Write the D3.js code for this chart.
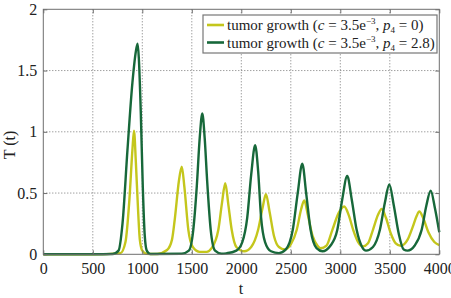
<!DOCTYPE html>
<html>
<head>
<meta charset="utf-8">
<script src="https://cdn.jsdelivr.net/npm/d3@7"></script>
<style>
  body { margin: 0; background: #fff; }
</style>
</head>
<body>
<svg id="chart" width="451" height="298" font-family="Liberation Serif"></svg>
<script>
// tumor growth, c = 3.5e-3, p4 = 0
var yellowT = [0, 500, 780, 830, 870, 900, 916, 935, 955, 975, 1000, 1040, 1150, 1250, 1300, 1330, 1370, 1399, 1425, 1465, 1510, 1580, 1650,
    1700, 1768, 1805, 1838, 1870, 1903, 1950, 2030, 2100, 2170, 2215, 2249, 2285, 2330, 2380, 2440,
    2500, 2560, 2605, 2636, 2670, 2720, 2770, 2800, 2860, 2920, 2985, 3040, 3085, 3130, 3180, 3230,
    3280, 3330, 3380, 3418, 3460, 3510, 3560, 3610, 3680, 3730, 3770, 3798, 3840, 3890, 3950, 4000];
var yellowV = [0, 0, 0.01, 0.1, 0.45, 0.85, 1.01, 0.75, 0.4, 0.12, 0.03, 0.005, 0.003, 0.035, 0.12, 0.3, 0.6, 0.715, 0.55, 0.2, 0.06, 0.02, 0.02,
    0.05, 0.2, 0.42, 0.58, 0.4, 0.2, 0.06, 0.025, 0.06, 0.2, 0.38, 0.49, 0.35, 0.15, 0.06, 0.04,
    0.08, 0.2, 0.37, 0.44, 0.33, 0.15, 0.07, 0.05, 0.07, 0.2, 0.34, 0.39, 0.32, 0.2, 0.1, 0.065,
    0.09, 0.2, 0.32, 0.37, 0.3, 0.17, 0.09, 0.07, 0.12, 0.22, 0.31, 0.35, 0.29, 0.18, 0.1, 0.075];

// tumor growth, c = 3.5e-3, p4 = 2.8
var greenT = [0, 500, 700, 760, 800, 850, 900, 940, 953, 965, 985, 1005, 1025, 1045, 1080,
    1400, 1470, 1515, 1550, 1580, 1606, 1630, 1655, 1691, 1735, 1800,
    1850, 1950, 2010, 2060, 2100, 2140, 2170, 2200, 2240, 2300, 2380,
    2450, 2520, 2570, 2616, 2655, 2700, 2760, 2820,
    2900, 2970, 3020, 3070, 3115, 3165, 3220, 3260,
    3330, 3400, 3450, 3495, 3540, 3590, 3640, 3680,
    3750, 3822, 3870, 3913, 3955, 4000];
var greenV = [0, 0, 0.002, 0.03, 0.25, 0.85, 1.4, 1.68, 1.72, 1.6, 1.15, 0.55, 0.15, 0.03, 0.003,
    0.005, 0.03, 0.2, 0.55, 0.95, 1.15, 0.95, 0.6, 0.2, 0.03, 0.005,
    0.008, 0.03, 0.1, 0.3, 0.65, 0.89, 0.68, 0.3, 0.1, 0.025, 0.01,
    0.04, 0.2, 0.5, 0.74, 0.5, 0.2, 0.05, 0.025,
    0.07, 0.2, 0.45, 0.64, 0.45, 0.2, 0.06, 0.03,
    0.06, 0.2, 0.42, 0.57, 0.4, 0.17, 0.04, 0.03,
    0.07, 0.2, 0.4, 0.52, 0.38, 0.18];

var xTicks = [0, 500, 1000, 1500, 2000, 2500, 3000, 3500, 4000];
var yTicks = [0, 0.5, 1, 1.5, 2];

var ctx = {
    left: 43.3, right: 439.3, top: 9.3, bottom: 254.3,
    YELLOW: "#c4c61c",
    GREEN: "#17683a",
    FRAME: "#6f6f6f",
    GRID: "#555",
    SERIF: "Liberation Serif"
};

var svgEl = d3.select("#chart");

var x = d3.scaleLinear().domain([0, 4000]).range([ctx.left, ctx.right]);
var y = d3.scaleLinear().domain([0, 2]).range([ctx.bottom, ctx.top]);

// dotted grid
svgEl.append("g").selectAll("line")
    .data(xTicks.slice(1, -1))
    .enter().append("line")
    .attr("x1", d => x(d)).attr("x2", d => x(d))
    .attr("y1", ctx.top).attr("y2", ctx.bottom)
    .attr("stroke", ctx.GRID).attr("stroke-width", 0.8)
    .attr("stroke-dasharray", "1,2");
svgEl.append("g").selectAll("line")
    .data(yTicks.slice(1, -1))
    .enter().append("line")
    .attr("x1", ctx.left).attr("x2", ctx.right)
    .attr("y1", d => y(d)).attr("y2", d => y(d))
    .attr("stroke", ctx.GRID).attr("stroke-width", 0.8)
    .attr("stroke-dasharray", "1,2");

// curves
var line = d3.line()
    .x(d => x(d[0]))
    .y(d => y(d[1]))
    .curve(d3.curveMonotoneX);

var series = [
    { t: yellowT, v: yellowV, color: ctx.YELLOW },
    { t: greenT, v: greenV, color: ctx.GREEN }
];

var plotG = svgEl.append("g");
series.forEach(function(s) {
    plotG.append("path")
        .datum(s.t.map((t, i) => [t, s.v[i]]))
        .attr("d", line)
        .attr("fill", "none")
        .attr("stroke", s.color)
        .attr("stroke-width", 2.4)
        .attr("stroke-linejoin", "round");
});

// frame with inward ticks on all sides
svgEl.append("rect")
    .attr("x", ctx.left).attr("y", ctx.top)
    .attr("width", ctx.right - ctx.left).attr("height", ctx.bottom - ctx.top)
    .attr("fill", "none").attr("stroke", ctx.FRAME).attr("stroke-width", 1);

var fmt = d3.format("");
var axB = svgEl.append("g")
    .attr("transform", "translate(0," + ctx.bottom + ")")
    .call(d3.axisBottom(x).tickValues(xTicks).tickSizeInner(-4).tickSizeOuter(0).tickPadding(8).tickFormat(fmt));
var axT = svgEl.append("g")
    .attr("transform", "translate(0," + ctx.top + ")")
    .call(d3.axisTop(x).tickValues(xTicks).tickSizeInner(-4).tickSizeOuter(0).tickFormat(""));
var axL = svgEl.append("g")
    .attr("transform", "translate(" + ctx.left + ",0)")
    .call(d3.axisLeft(y).tickValues(yTicks).tickSizeInner(-4).tickSizeOuter(0).tickPadding(6).tickFormat(fmt));
var axR = svgEl.append("g")
    .attr("transform", "translate(" + ctx.right + ",0)")
    .call(d3.axisRight(y).tickValues(yTicks).tickSizeInner(-4).tickSizeOuter(0).tickFormat(""));

[axB, axT, axL, axR].forEach(function(a) {
    a.attr("font-family", ctx.SERIF).attr("font-size", 16);
    a.select(".domain").remove();
    a.selectAll(".tick line").attr("stroke", ctx.FRAME);
    a.selectAll("text").attr("fill", "#222");
});

// axis titles
svgEl.append("text")
    .attr("x", 241).attr("y", 294)
    .attr("text-anchor", "middle")
    .attr("font-family", ctx.SERIF)
    .attr("font-size", 16).attr("fill", "#222")
    .text("t");
svgEl.append("text")
    .attr("transform", "translate(15,145) rotate(-90)")
    .attr("text-anchor", "middle")
    .attr("font-family", ctx.SERIF)
    .attr("font-size", 16).attr("fill", "#222")
    .text("T (t)");

// legend
var legendG = svgEl.append("g").attr("transform", "translate(203,15)");
legendG.append("rect")
    .attr("x", 0).attr("y", 0).attr("width", 234).attr("height", 38)
    .attr("fill", "#fff").attr("stroke", "#777").attr("stroke-width", 1.2);

var legendParams = ["0", "2.8"];
series.forEach(function(s, i) {
    var ly = 10 + i * 17.5;
    legendG.append("line")
        .attr("x1", 4).attr("x2", 21).attr("y1", ly).attr("y2", ly)
        .attr("stroke", s.color).attr("stroke-width", 2.6);
    var tx = legendG.append("text")
        .attr("x", 24).attr("y", ly + 5)
        .attr("font-family", ctx.SERIF)
        .attr("font-size", 15).attr("fill", "#222");
    tx.append("tspan").text("tumor growth (");
    tx.append("tspan").attr("font-style", "italic").text("c");
    tx.append("tspan").text(" = 3.5e");
    tx.append("tspan").attr("font-size", 9).attr("dy", -6).text("\u22123");
    tx.append("tspan").attr("dy", 6).text(", ");
    tx.append("tspan").attr("font-style", "italic").text("p");
    tx.append("tspan").attr("font-size", 9).attr("dy", 3).text("4");
    tx.append("tspan").attr("dy", -3).text(" = " + legendParams[i] + ")");
});
</script>
</body>
</html>
